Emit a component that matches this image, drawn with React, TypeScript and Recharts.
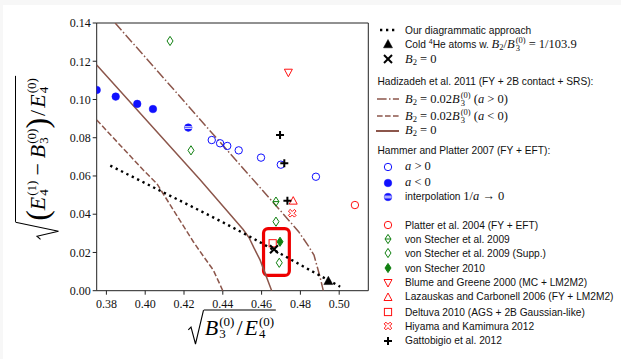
import React from 'react';
import { ScatterChart, Scatter, XAxis, YAxis, ReferenceLine, ReferenceArea } from 'recharts';

// ---------------- data ----------------
const xTicks = [0.38, 0.40, 0.42, 0.44, 0.46, 0.48, 0.50];
const yTicks = [0.0, 0.02, 0.04, 0.06, 0.08, 0.10, 0.12, 0.14];

// Our diagrammatic approach (dotted)
const ourX = [0.382, 0.395, 0.41, 0.425, 0.44, 0.455, 0.47, 0.485, 0.5005];
const ourY = [0.0654, 0.0588, 0.0511, 0.0435, 0.0358, 0.0277, 0.0192, 0.0107, 0.0021];

// Cold 4He atoms
const coldX = [0.4944];
const coldY = [0.0052];
// B2 = 0 (cross)
const b2zX = [0.4664];
const b2zY = [0.0217];

// Hadizadeh et al. 2011 curves
const hadPosX = [0.3845, 0.4700, 0.4790, 0.4840, 0.4870, 0.4901, 0.4918];
const hadPosY = [0.14, 0.0415, 0.0310, 0.0236, 0.0186, 0.0073, 0.0];
const hadNegX = [0.375, 0.3990, 0.4060, 0.4128, 0.4190, 0.4248, 0.4300, 0.4351, 0.4400];
const hadNegY = [0.0893, 0.0631, 0.0560, 0.0450, 0.0350, 0.0256, 0.0180, 0.0108, 0.0];
const hadZeroX = [0.375, 0.4282, 0.4505, 0.4535, 0.4560, 0.4592, 0.4652];
const hadZeroY = [0.118, 0.0582, 0.0320, 0.0278, 0.0225, 0.0161, 0.0];

// Hammer and Platter 2007
const hpPosX = [0.4343, 0.4386, 0.4423, 0.4482, 0.4597, 0.4699, 0.4880];
const hpPosY = [0.0788, 0.0771, 0.0757, 0.0734, 0.0696, 0.0659, 0.0596];
const hpNegX = [0.375, 0.3848, 0.3959, 0.4040];
const hpNegY = [0.1050, 0.1015, 0.0977, 0.0950];
const hpIntX = [0.4222];
const hpIntY = [0.0853];

// Other works
const platterX = [0.5081];
const platterY = [0.0448];
const vs09X = [0.4674];
const vs09Y = [0.0466];
const vs09sX = [0.4128, 0.4236, 0.4674, 0.4691];
const vs09sY = [0.1306, 0.0734, 0.0361, 0.0146];
const vs10X = [0.4695];
const vs10Y = [0.0256];
const blumeX = [0.4738];
const blumeY = [0.1140];
const lazX = [0.4763];
const lazY = [0.0471];
const deltX = [0.4657];
const deltY = [0.0248];
const hiyX = [0.4758];
const hiyY = [0.0405];
const gattX = [0.4695, 0.4717, 0.4733];
const gattY = [0.0814, 0.0666, 0.0471];

// highlight box
const boxX = [0.4610, 0.4743];
const boxY = [0.0080, 0.0325];

// ---------------- helpers ----------------
const pts = (xs: number[], ys: number[]) => xs.map((x, i) => ({ x, y: ys[i] }));

const BROWN = '#8c564b';
const BLUE = '#1010ff';
const GREEN = '#108010';
const RED = '#ff1010';
const serif = "'Liberation Serif', 'DejaVu Serif', serif";
const sans = "'Liberation Sans', Arial, sans-serif";

const noShape = () => <g />;

const shapeOpenCircle = (p: any) => <circle cx={p.cx} cy={p.cy} r={3.7} fill="none" stroke={BLUE} strokeWidth={1} />;
const shapeFilledCircle = (p: any) => <circle cx={p.cx} cy={p.cy} r={3.8} fill={BLUE} stroke={BLUE} strokeWidth={0.5} />;
const shapeInterp = (p: any) => (
  <g>
    <circle cx={p.cx} cy={p.cy} r={3.8} fill={BLUE} stroke={BLUE} strokeWidth={0.5} />
    <rect x={p.cx - 3.5} y={p.cy - 1.3} width={7} height={2.6} fill="#fff" />
    <line x1={p.cx - 3.5} x2={p.cx + 3.5} y1={p.cy} y2={p.cy} stroke={BLUE} strokeWidth={0.7} />
  </g>
);
const diamondPath = (cx: number, cy: number) => `M${cx} ${cy - 4.6} L${cx + 3} ${cy} L${cx} ${cy + 4.6} L${cx - 3} ${cy} Z`;
const shapeOpenDiamond = (p: any) => <path d={diamondPath(p.cx, p.cy)} fill="none" stroke={GREEN} strokeWidth={1} />;
const shapeVs09 = (p: any) => (
  <g>
    <path d={diamondPath(p.cx, p.cy)} fill="none" stroke={GREEN} strokeWidth={1} />
    <line x1={p.cx - 3} x2={p.cx + 3} y1={p.cy} y2={p.cy} stroke={GREEN} strokeWidth={1} />
  </g>
);
const shapeFilledDiamond = (p: any) => <path d={diamondPath(p.cx, p.cy)} fill={GREEN} stroke={GREEN} strokeWidth={1} />;
const shapeOpenCircleRed = (p: any) => <circle cx={p.cx} cy={p.cy} r={3.7} fill="none" stroke={RED} strokeWidth={1} />;
const shapeDownTri = (p: any) => (
  <path d={`M${p.cx - 4} ${p.cy - 3.5} L${p.cx + 4} ${p.cy - 3.5} L${p.cx} ${p.cy + 4} Z`} fill="none" stroke={RED} strokeWidth={1} />
);
const shapeUpTri = (p: any) => (
  <path d={`M${p.cx - 4} ${p.cy + 3.5} L${p.cx + 4} ${p.cy + 3.5} L${p.cx} ${p.cy - 4} Z`} fill="none" stroke={RED} strokeWidth={1} />
);
const shapeSquare = (p: any) => <rect x={p.cx - 3.6} y={p.cy - 3.6} width={7.2} height={7.2} fill="none" stroke={RED} strokeWidth={1} />;
const xOutline = (cx: number, cy: number) => {
  const w = 1.2;
  const L = 4.2;
  const base = [
    [w, w], [L, w], [L, -w], [w, -w], [w, -L], [-w, -L], [-w, -w], [-L, -w], [-L, w], [-w, w], [-w, L], [w, L],
  ];
  const c = Math.SQRT1_2;
  return (
    'M' +
    base
      .map(([a, b]) => `${(cx + (a - b) * c).toFixed(2)} ${(cy + (a + b) * c).toFixed(2)}`)
      .join(' L') +
    ' Z'
  );
};
const shapeHiyama = (p: any) => <path d={xOutline(p.cx, p.cy)} fill="none" stroke={RED} strokeWidth={1} />;
const shapePlus = (p: any) => (
  <g stroke="#000" strokeWidth={2}>
    <line x1={p.cx - 4} x2={p.cx + 4} y1={p.cy} y2={p.cy} />
    <line x1={p.cx} x2={p.cx} y1={p.cy - 4} y2={p.cy + 4} />
  </g>
);
const shapeCross = (p: any) => (
  <g stroke="#000" strokeWidth={2}>
    <line x1={p.cx - 4} x2={p.cx + 4} y1={p.cy - 4} y2={p.cy + 4} />
    <line x1={p.cx - 4} x2={p.cx + 4} y1={p.cy + 4} y2={p.cy - 4} />
  </g>
);
const shapeBlackTri = (p: any) => (
  <path d={`M${p.cx - 4.5} ${p.cy + 3.8} L${p.cx + 4.5} ${p.cy + 3.8} L${p.cx} ${p.cy - 4.5} Z`} fill="#000" stroke="#000" strokeWidth={0.5} />
);

const DOT = { stroke: '#000', strokeWidth: 2.4, strokeDasharray: '2.3 3.7', fill: 'none' };
const DASHDOT = { stroke: BROWN, strokeWidth: 1.5, strokeDasharray: '9.6 2.4 1.5 2.4', fill: 'none' };
const DASHED = { stroke: BROWN, strokeWidth: 1.5, strokeDasharray: '5.6 2.4', fill: 'none' };
const SOLID = { stroke: BROWN, strokeWidth: 1.5, fill: 'none' };

const boxShape = (p: any) => (
  <rect x={p.x} y={p.y} width={p.width} height={p.height} rx={4.5} ry={4.5} fill="none" stroke="#ee0000" strokeWidth={3.2} />
);

// ---------------- math text helpers ----------------
const Stk = ({ sup, sub, size, lh, raise }: any) => (
  <span
    style={{
      display: 'inline-flex',
      flexDirection: 'column',
      fontSize: size,
      lineHeight: `${lh}px`,
      verticalAlign: raise,
      fontStyle: 'normal',
      marginLeft: 1,
    }}
  >
    <span>{sup}</span>
    <span>{sub}</span>
  </span>
);

const Sub = ({ children, size }: any) => (
  <span style={{ fontSize: size, verticalAlign: -2, fontStyle: 'normal' }}>{children}</span>
);

const Sqrt = ({ h, w, children }: any) => (
  <span style={{ display: 'inline-flex', alignItems: 'stretch', height: h }}>
    <svg width={w} height={h} style={{ display: 'block', overflow: 'visible' }}>
      <path
        d={`M0.5 ${h * 0.58} L${w * 0.2} ${h * 0.5} L${w * 0.48} ${h - 0.5} L${w - 0.3} 0.6`}
        fill="none"
        stroke="#000"
        strokeWidth={1.1}
      />
    </svg>
    <span
      style={{
        borderTop: '1.1px solid #000',
        display: 'inline-flex',
        alignItems: 'center',
        padding: '0 2px 0 1px',
        whiteSpace: 'nowrap',
      }}
    >
      {children}
    </span>
  </span>
);

const AX = { size: 13, lh: 12, raise: '8px' };
const LG = { size: 8.5, lh: 8, raise: '5px' };

const XLabel = () => (
  <div
    style={{
      position: 'absolute',
      left: 232,
      top: 330,
      transform: 'translate(-50%, -50%)',
      fontFamily: serif,
      fontSize: 22,
      fontStyle: 'italic',
      color: '#000',
      whiteSpace: 'nowrap',
    }}
  >
    <Sqrt h={35} w={16}>
      <span>B</span>
      <Stk sup="(0)" sub="3" {...AX} />
      <span style={{ fontStyle: 'normal', margin: '0 2px' }}>/</span>
      <span>E</span>
      <Stk sup="(0)" sub="4" {...AX} />
    </Sqrt>
  </div>
);

const BigParen = ({ c }: any) => (
  <span style={{ fontSize: 32, fontStyle: 'normal', lineHeight: '30px', position: 'relative', top: -1 }}>{c}</span>
);

const YLabel = () => (
  <div
    style={{
      position: 'absolute',
      left: 40,
      top: 158,
      transform: 'translate(-50%, -50%) rotate(-90deg)',
      fontFamily: serif,
      fontSize: 22,
      fontStyle: 'italic',
      color: '#000',
      whiteSpace: 'nowrap',
    }}
  >
    <Sqrt h={44} w={18}>
      <BigParen c="(" />
      <span>E</span>
      <Stk sup="(1)" sub="4" {...AX} />
      <span style={{ fontStyle: 'normal', margin: '0 5px' }}>−</span>
      <span>B</span>
      <Stk sup="(0)" sub="3" {...AX} />
      <BigParen c=")" />
      <span style={{ fontStyle: 'normal', margin: '0 2px' }}>/</span>
      <span>E</span>
      <Stk sup="(0)" sub="4" {...AX} />
    </Sqrt>
  </div>
);

// ---------------- legend ----------------
const M = ({ children }: any) => (
  <span style={{ fontFamily: serif, fontSize: 12.5 }}>{children}</span>
);
const I = ({ children }: any) => <span style={{ fontStyle: 'italic' }}>{children}</span>;

const Row = ({ y, mark, header, children }: any) => (
  <div
    style={{
      position: 'absolute',
      left: header ? 377.5 : 376,
      top: y - 8,
      height: 16,
      display: 'flex',
      alignItems: 'center',
      whiteSpace: 'nowrap',
      fontFamily: sans,
      fontSize: 10.2,
      color: '#111',
    }}
  >
    {mark && (
      <svg width={24} height={16} style={{ marginRight: 5, flex: 'none' }}>
        {mark}
      </svg>
    )}
    <span>{children}</span>
  </div>
);

const lineMark = (props: any, x1 = 1, x2 = 23) => <line x1={x1} x2={x2} y1={8} y2={8} {...props} />;
const at = { cx: 12, cy: 8 };

const Legend = () => (
  <>
    <Row y={30} mark={lineMark(DOT, 4, 21)}>Our diagrammatic approach</Row>
    <Row y={43.5} mark={shapeBlackTri(at)}>
      Cold <sup style={{ fontSize: 7, verticalAlign: 4 }}>4</sup>He atoms w.{' '}
      <M>
        <I>B</I>
        <Sub size={8.5}>2</Sub>/<I>B</I>
        <Stk sup="(0)" sub="3" {...LG} /> = 1/103.9
      </M>
    </Row>
    <Row y={59} mark={shapeCross(at)}>
      <M>
        <I>B</I>
        <Sub size={8.5}>2</Sub> = 0
      </M>
    </Row>
    <Row y={81} header>Hadizadeh et al. 2011 (FY + 2B contact + SRS):</Row>
    <Row y={99.3} mark={lineMark(DASHDOT)}>
      <M>
        <I>B</I>
        <Sub size={8.5}>2</Sub> = 0.02<I>B</I>
        <Stk sup="(0)" sub="3" {...LG} /> (<I>a</I> &gt; 0)
      </M>
    </Row>
    <Row y={116} mark={lineMark(DASHED)}>
      <M>
        <I>B</I>
        <Sub size={8.5}>2</Sub> = 0.02<I>B</I>
        <Stk sup="(0)" sub="3" {...LG} /> (<I>a</I> &lt; 0)
      </M>
    </Row>
    <Row y={130.7} mark={lineMark({ ...SOLID, strokeWidth: 2 }, 0, 23)}>
      <M>
        <I>B</I>
        <Sub size={8.5}>2</Sub> = 0
      </M>
    </Row>
    <Row y={150.7} header>Hammer and Platter 2007 (FY + EFT):</Row>
    <Row y={166.7} mark={shapeOpenCircle(at)}>
      <M>
        <I>a</I> &gt; 0
      </M>
    </Row>
    <Row y={182.7} mark={shapeFilledCircle(at)}>
      <M>
        <I>a</I> &lt; 0
      </M>
    </Row>
    <Row y={196.7} mark={shapeInterp(at)}>
      interpolation{' '}
      <M>
        1/<I>a</I> → 0
      </M>
    </Row>
    <Row y={225} mark={shapeOpenCircleRed(at)}>Platter et al. 2004 (FY + EFT)</Row>
    <Row y={239.3} mark={shapeVs09(at)}>von Stecher et al. 2009</Row>
    <Row y={253.3} mark={shapeOpenDiamond(at)}>von Stecher et al. 2009 (Supp.)</Row>
    <Row y={268.3} mark={shapeFilledDiamond(at)}>von Stecher 2010</Row>
    <Row y={282.7} mark={shapeDownTri(at)}>Blume and Greene 2000 (MC + LM2M2)</Row>
    <Row y={296.7} mark={shapeUpTri(at)}>Lazauskas and Carbonell 2006 (FY + LM2M2)</Row>
    <Row y={312.3} mark={shapeSquare(at)}>Deltuva 2010 (AGS + 2B Gaussian-like)</Row>
    <Row y={326} mark={shapeHiyama(at)}>Hiyama and Kamimura 2012</Row>
    <Row y={340.7} mark={shapePlus(at)}>Gattobigio et al. 2012</Row>
  </>
);

// ---------------- chart ----------------
const tickStyle = { fontFamily: serif, fontSize: 12, fill: '#111' };
const fmt = (v: number) => v.toFixed(2);

export default function App() {
  return (
    <div style={{ position: 'absolute', left: 0, top: 0, width: 621, height: 359, background: '#f7f7f7', overflow: 'hidden' }}>
      <div style={{ position: 'absolute', left: 3, top: 5, right: 0, bottom: 0, background: '#fff' }} />
      <div style={{ position: 'absolute', left: 0, top: 0 }}>
        <ScatterChart width={621} height={359} margin={{ top: 23, right: 252.7, bottom: 38.3, left: 56.7 }}>
          <XAxis
            type="number"
            dataKey="x"
            domain={[0.375, 0.515]}
            allowDataOverflow
            ticks={xTicks}
            tickFormatter={fmt}
            height={30}
            tickSize={4}
            tickMargin={5}
            tick={tickStyle}
            axisLine={{ stroke: '#222' }}
            tickLine={{ stroke: '#222' }}
          />
          <YAxis
            type="number"
            dataKey="y"
            domain={[0, 0.14]}
            allowDataOverflow
            ticks={yTicks}
            tickFormatter={fmt}
            width={40}
            tickSize={4}
            tickMargin={2}
            tick={tickStyle}
            axisLine={{ stroke: '#222' }}
            tickLine={{ stroke: '#222' }}
          />
          <ReferenceLine y={0.14} stroke="#222" strokeWidth={1} />
          <ReferenceLine x={0.515} stroke="#222" strokeWidth={1} />

          <Scatter data={pts(hadPosX, hadPosY)} line={DASHDOT} lineType="joint" shape={noShape} isAnimationActive={false} />
          <Scatter data={pts(hadNegX, hadNegY)} line={DASHED} lineType="joint" shape={noShape} isAnimationActive={false} />
          <Scatter data={pts(hadZeroX, hadZeroY)} line={SOLID} lineType="joint" shape={noShape} isAnimationActive={false} />
          <Scatter data={pts(ourX, ourY)} line={DOT} lineType="joint" shape={noShape} isAnimationActive={false} />

          <Scatter data={pts(hpPosX, hpPosY)} shape={shapeOpenCircle} isAnimationActive={false} />
          <Scatter data={pts(hpNegX, hpNegY)} shape={shapeFilledCircle} isAnimationActive={false} />
          <Scatter data={pts(hpIntX, hpIntY)} shape={shapeInterp} isAnimationActive={false} />
          <Scatter data={pts(platterX, platterY)} shape={shapeOpenCircleRed} isAnimationActive={false} />
          <Scatter data={pts(vs09sX, vs09sY)} shape={shapeOpenDiamond} isAnimationActive={false} />
          <Scatter data={pts(vs09X, vs09Y)} shape={shapeVs09} isAnimationActive={false} />
          <Scatter data={pts(vs10X, vs10Y)} shape={shapeFilledDiamond} isAnimationActive={false} />
          <Scatter data={pts(blumeX, blumeY)} shape={shapeDownTri} isAnimationActive={false} />
          <Scatter data={pts(lazX, lazY)} shape={shapeUpTri} isAnimationActive={false} />
          <Scatter data={pts(deltX, deltY)} shape={shapeSquare} isAnimationActive={false} />
          <Scatter data={pts(hiyX, hiyY)} shape={shapeHiyama} isAnimationActive={false} />
          <Scatter data={pts(gattX, gattY)} shape={shapePlus} isAnimationActive={false} />
          <Scatter data={pts(coldX, coldY)} shape={shapeBlackTri} isAnimationActive={false} />
          <Scatter data={pts(b2zX, b2zY)} shape={shapeCross} isAnimationActive={false} />

          <ReferenceArea x1={boxX[0]} x2={boxX[1]} y1={boxY[0]} y2={boxY[1]} shape={boxShape} />
        </ScatterChart>
      </div>
      <XLabel />
      <YLabel />
      <Legend />
    </div>
  );
}
